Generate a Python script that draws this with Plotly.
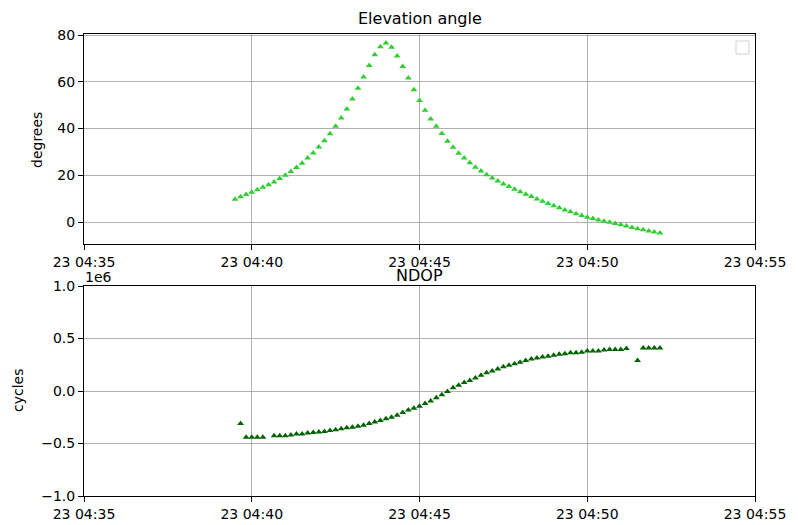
import pandas as pd
import plotly.graph_objects as go

# ---- data ----
start_time = "2021-03-23 04:39:30"
step_seconds = 10
elevation_deg = [
    9.8, 10.8, 11.8, 12.8, 13.8, 14.9, 16.0, 17.2, 18.6, 20.0,
    21.6, 23.3, 25.2, 27.4, 29.6, 32.1, 34.8, 37.8, 41.0, 44.5,
    48.4, 52.6, 57.2, 62.0, 67.0, 71.6, 75.0, 76.6, 74.8, 71.0,
    66.5, 61.6, 56.6, 52.0, 47.8, 44.1, 41.0, 37.9, 34.6, 32.0,
    29.4, 27.4, 25.4, 23.5, 21.9, 20.2, 18.9, 17.6, 16.3, 15.2,
    14.1, 13.0, 11.9, 10.9, 9.9, 8.9, 8.0, 7.0, 6.1, 5.2,
    4.4, 3.6, 2.8, 2.1, 1.5, 0.9, 0.4, -0.1, -0.6, -1.1,
    -1.7, -2.3, -2.8, -3.3, -3.8, -4.2, -4.7,
]
ndop_cycles = [
    None, -310000, -440000, -440000, -440000, -440000, None, -425000, -425000, -425000,
    -420000, -410000, -410000, -400000, -395000, -390000, -385000, -375000, -370000, -360000,
    -350000, -345000, -335000, -325000, -310000, -295000, -280000, -265000, -250000, -230000,
    -205000, -180000, -165000, -145000, -120000, -95000, -65000, -35000, -5000, 30000,
    55000, 80000, 100000, 125000, 150000, 175000, 190000, 210000, 230000, 245000,
    260000, 275000, 290000, 305000, 315000, 325000, 330000, 340000, 350000, 355000,
    365000, 365000, 370000, 380000, 380000, 380000, 390000, 395000, 395000, 395000,
    405000, None, 290000, 410000, 410000, 410000, 410000,
]
times = pd.date_range(start_time, periods=len(elevation_deg), freq=f"{step_seconds}s")

x_range = ["2021-03-23 04:35:00", "2021-03-23 04:55:00"]
x_ticks = ["2021-03-23 04:35:00", "2021-03-23 04:40:00", "2021-03-23 04:45:00",
           "2021-03-23 04:50:00", "2021-03-23 04:55:00"]
x_ticktext = ["23 04:35", "23 04:40", "23 04:45", "23 04:50", "23 04:55"]
elev_ticks = [0, 20, 40, 60, 80]
ndop_ticks = [-1e6, -0.5e6, 0, 0.5e6, 1e6]
ndop_ticktext = ["\u22121.0", "\u22120.5", "0.0", "0.5", "1.0"]

FONT = "DejaVu Sans"
GRID = "#b0b0b0"
FS = 14

fig = go.Figure()
fig.add_trace(go.Scatter(x=times, y=elevation_deg, mode="markers",
                         marker=dict(symbol="triangle-up", size=6, color="#32cd32"),
                         xaxis="x", yaxis="y", showlegend=False))
fig.add_trace(go.Scatter(x=times, y=ndop_cycles, mode="markers",
                         marker=dict(symbol="triangle-up", size=6, color="#006400"),
                         xaxis="x2", yaxis="y2", showlegend=False))

axis_common = dict(showline=True, linecolor="black", linewidth=1, mirror=True,
                   ticks="outside", ticklen=5, tickcolor="black", automargin=False,
                   showgrid=True, gridcolor=GRID, gridwidth=1, zeroline=False,
                   tickfont=dict(family=FONT, size=FS, color="black"))

TOP, BOT = 34, 496
H = BOT - TOP

def py(p):
    return (BOT - p) / float(H)

def px(p):
    return (p - 84) / 671.0

fig.update_layout(
    width=798, height=525,
    margin=dict(l=84, r=43, t=TOP, b=525 - BOT, autoexpand=False),
    paper_bgcolor="white", plot_bgcolor="white",
    font=dict(family=FONT, size=FS, color="black"),
    xaxis=dict(axis_common, type="date", range=x_range, tickvals=x_ticks,
               ticktext=x_ticktext, anchor="y", domain=[0, 1]),
    yaxis=dict(axis_common, range=[-9.36, 80.43], tickvals=elev_ticks,
               domain=[py(244), 1], anchor="x"),
    xaxis2=dict(axis_common, type="date", range=x_range, tickvals=x_ticks,
                ticktext=x_ticktext, anchor="y2", domain=[0, 1]),
    yaxis2=dict(axis_common, range=[-1e6, 1e6], tickvals=ndop_ticks,
                ticktext=ndop_ticktext, domain=[0, py(286)], anchor="x2"),
)

ann = [
    dict(text="Elevation angle", x=0.5, y=py(18), xanchor="center", yanchor="middle",
         xref="paper", yref="paper", showarrow=False, font=dict(family=FONT, size=16)),
    dict(text="NDOP", x=0.5, y=py(275), xanchor="center", yanchor="middle",
         xref="paper", yref="paper", showarrow=False, font=dict(family=FONT, size=16)),
    dict(text="1e6", x=px(98), y=py(277), xanchor="center", yanchor="middle",
         xref="paper", yref="paper", showarrow=False, font=dict(family=FONT, size=FS)),
    dict(text="degrees", x=px(37), y=py(140), xanchor="center", yanchor="middle",
         xref="paper", yref="paper", textangle=-90, showarrow=False,
         font=dict(family=FONT, size=FS)),
    dict(text="cycles", x=px(18), y=py(391), xanchor="center", yanchor="middle",
         xref="paper", yref="paper", textangle=-90, showarrow=False,
         font=dict(family=FONT, size=FS)),
]
fig.update_layout(annotations=ann)

fig.add_shape(type="rect", xref="paper", yref="paper",
              x0=px(736), x1=px(749), y0=py(54), y1=py(41),
              line=dict(color="#d0d0d0", width=1), fillcolor="white")

fig.write_html("out.html")
